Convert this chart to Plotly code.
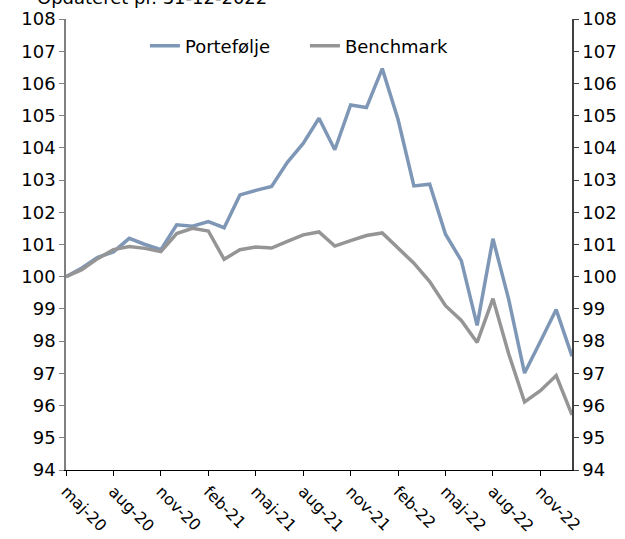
import plotly.graph_objects as go

# Monthly categories (Danish month abbreviations)
months = ["maj-20", "jun-20", "jul-20", "aug-20", "sep-20", "okt-20", "nov-20", "dec-20",
          "jan-21", "feb-21", "mar-21", "apr-21", "maj-21", "jun-21", "jul-21", "aug-21",
          "sep-21", "okt-21", "nov-21", "dec-21", "jan-22", "feb-22", "mar-22", "apr-22",
          "maj-22", "jun-22", "jul-22", "aug-22", "sep-22", "okt-22", "nov-22", "dec-22",
          "jan-23"]

portefolje = [100.00, 100.27, 100.60, 100.77, 101.19, 101.00, 100.84, 101.61,
              101.57, 101.71, 101.52, 102.54, 102.68, 102.80, 103.55, 104.14,
              104.92, 103.94, 105.33, 105.25, 106.46, 104.88, 102.82, 102.87,
              101.32, 100.50, 98.49, 101.18, 99.29, 97.01, 97.99, 98.98,
              97.53]

benchmark = [100.00, 100.22, 100.56, 100.84, 100.94, 100.88, 100.78, 101.34,
             101.50, 101.42, 100.54, 100.84, 100.92, 100.89, 101.10, 101.30,
             101.39, 100.95, 101.12, 101.28, 101.36, 100.89, 100.42, 99.85,
             99.10, 98.64, 97.96, 99.32, 97.60, 96.11, 96.46, 96.93,
             95.71]

tick_labels = months[0:31:3]
y_ticks = list(range(94, 109))
title_text = "Opdateret pr. 31-12-2022"

FONT = "DejaVu Sans, Verdana, sans-serif"
FS = 18

fig = go.Figure()
fig.add_trace(go.Scatter(x=months, y=portefolje, mode="lines", name="Portefølje",
                         line=dict(color="#7F97B6", width=3.5)))
fig.add_trace(go.Scatter(x=months, y=benchmark, mode="lines", name="Benchmark",
                         line=dict(color="#959595", width=3.5)))
# empty trace so that the mirrored right-hand value axis is drawn
fig.add_trace(go.Scatter(x=[months[0]], y=[None], yaxis="y2", mode="lines",
                         showlegend=False, hoverinfo="skip"))

fig.update_layout(
    width=625, height=539,
    margin=dict(l=66, r=53, t=19, b=69),
    paper_bgcolor="white", plot_bgcolor="white",
    font=dict(family=FONT, size=FS, color="black"),
    showlegend=True,
    legend=dict(orientation="h", x=0.156, xanchor="left", y=0.94, yanchor="middle",
                bgcolor="rgba(0,0,0,0)", font=dict(size=FS),
                entrywidth=115, entrywidthmode="pixels",
                itemwidth=30),
    xaxis=dict(type="category", range=[0, len(months) - 1],
               tickmode="array", tickvals=tick_labels, ticktext=tick_labels,
               tickangle=45, ticks="outside", ticklen=5, tickcolor="black",
               showline=True, linecolor="black", linewidth=1,
               showgrid=False, zeroline=False, automargin=False,
               ticklabelstandoff=0,
               tickfont=dict(size=16)),
    yaxis=dict(range=[94, 108], tickmode="array", tickvals=y_ticks,
               ticks="outside", ticklen=5, tickcolor="#808080",
               showline=True, linecolor="#808080", linewidth=1.5,
               showgrid=False, zeroline=False, automargin=False,
               tickfont=dict(size=FS)),
    yaxis2=dict(range=[94, 108], tickmode="array", tickvals=y_ticks,
                overlaying="y", side="right", anchor="x",
                ticks="outside", ticklen=5, tickcolor="#404040",
                showline=True, linecolor="#404040", linewidth=1.5,
                showgrid=False, zeroline=False, automargin=False,
                tickfont=dict(size=FS)),
    annotations=[dict(text=title_text, xref="paper", yref="paper",
                      x=-0.061, y=1.0466, xanchor="left", yanchor="middle",
                      showarrow=False, font=dict(size=FS))],
)

fig.write_html("out.html")
